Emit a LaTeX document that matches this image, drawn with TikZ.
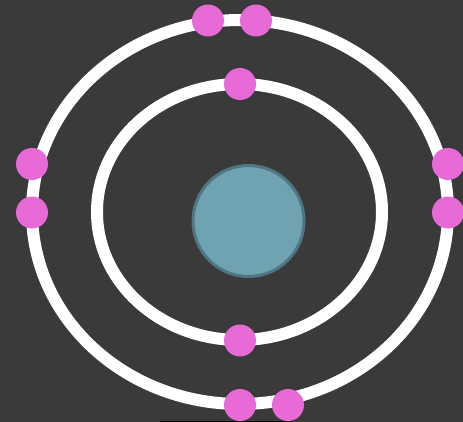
\documentclass[tikz,border=0pt]{standalone}
\begin{document}
\begin{tikzpicture}[x=1pt,y=-1pt,
  electron/.style={circle,fill=elec,minimum size=32pt,inner sep=0pt},
  orbit/.style={draw=white,line width=12pt},
  nucleus/.style={circle,fill=nuc,draw=nucb,line width=3pt,minimum size=111pt,inner sep=0pt}]
\definecolor{bg}{HTML}{3A3A3A}
\definecolor{elec}{HTML}{E86AD6}
\definecolor{nuc}{HTML}{6FA3B2}
\definecolor{nucb}{HTML}{4F7783}
\fill[bg] (0,0) rectangle (463,422);
\useasboundingbox (0,0) rectangle (463,422);
\draw[black,line width=1.2pt] (160,421.4) -- (292,421.4);
\draw[orbit] (240,212) ellipse [x radius=208, y radius=192];
\draw[orbit] (239.5,212) ellipse [x radius=142.5, y radius=128];
\node[nucleus] (n) at (248.5,221) {};
\node[electron] (e1) at (208,20.5) {};
\node[electron] (e2) at (256,20.5) {};
\node[electron] (e3) at (240,84) {};
\node[electron] (e4) at (32,164) {};
\node[electron] (e5) at (32,212.5) {};
\node[electron] (e6) at (448,164) {};
\node[electron] (e7) at (448,212.5) {};
\node[electron] (e8) at (240,340.5) {};
\node[electron] (e9) at (240,405) {};
\node[electron] (e10) at (288,405) {};
\end{tikzpicture}
\end{document}
